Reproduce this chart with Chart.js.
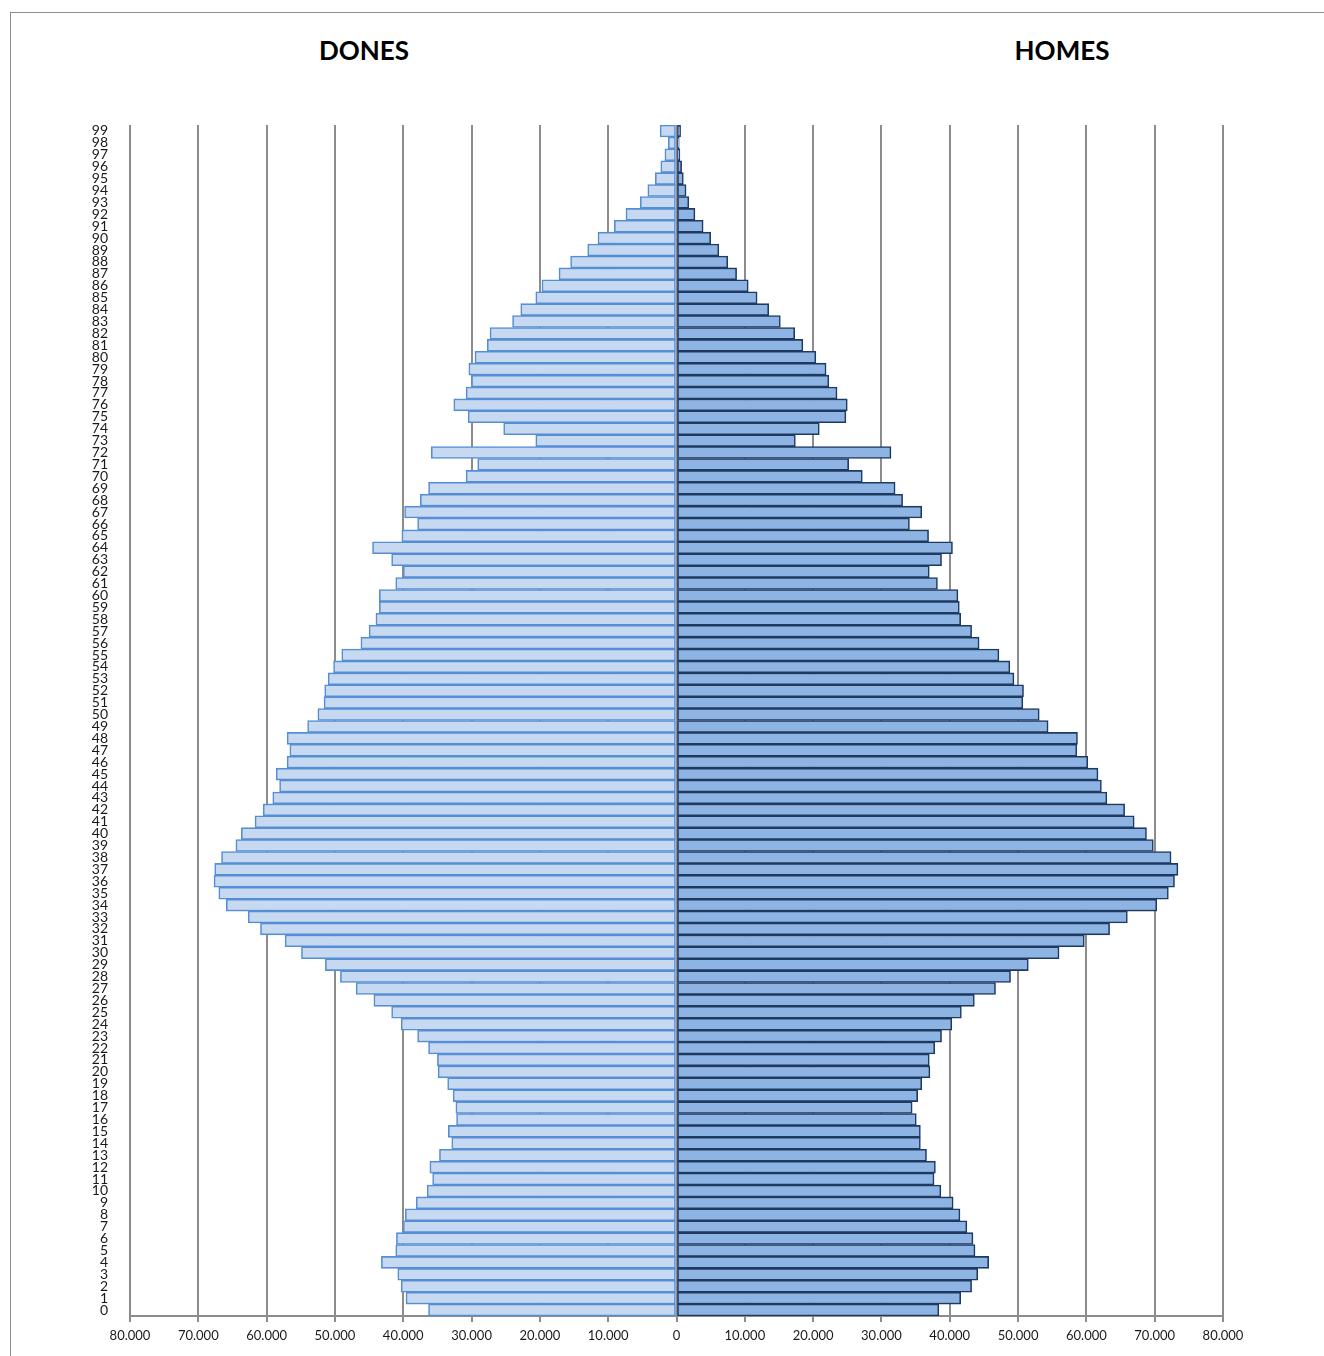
<!DOCTYPE html>
<html>
<head>
<meta charset="utf-8">
<script src="https://cdn.jsdelivr.net/npm/chart.js@4.4.1/dist/chart.umd.min.js"></script>
<style>
  html, body { margin: 0; padding: 0; background: #fff; }
  body { width: 1324px; height: 1356px; position: relative; overflow: hidden; }
  .frame { position: absolute; left: 10px; top: 12px; width: 1400px; height: 1400px;
           border-left: 1px solid #8c8c8c; border-top: 1px solid #8c8c8c; }
  .side-title { position: absolute; top: 34px; font: bold 26px Lato, 'Open Sans', sans-serif;
                color: #000; transform: translateX(-50%); white-space: nowrap; }
  .chart-box { position: absolute; left: 0; top: 0; width: 1324px; height: 1356px; }
</style>
</head>
<body>
<div class="frame"></div>
<div class="side-title" style="left:364px">DONES</div>
<div class="side-title" style="left:1062px">HOMES</div>
<div class="chart-box"><canvas id="pyramid"></canvas></div>

<script>
// ages 0..99, bottom to top
const ages = Array.from({ length: 100 }, (_, i) => String(i));

// women per age (0..99)
const dones = [
  36300, 39600, 40300, 40800, 43200, 41100, 41000, 40000, 39700, 38100,
  36500, 35700, 36100, 34700, 32900, 33400, 32200, 32300, 32700, 33500,
  34900, 35000, 36300, 37900, 40300, 41700, 44300, 46900, 49200, 51400,
  54900, 57300, 60900, 62700, 65900, 67000, 67700, 67600, 66600, 64500,
  63700, 61700, 60500, 59100, 58100, 58600, 57000, 56600, 57000, 54000,
  52500, 51600, 51500, 51000, 50200, 49000, 46200, 45000, 44000, 43500,
  43500, 41100, 40000, 41700, 44500, 40200, 37900, 39800, 37500, 36300,
  30800, 29100, 35900, 20600, 25300, 30500, 32600, 30800, 30000, 30400,
  29500, 27700, 27300, 24000, 22800, 20600, 19700, 17200, 15500, 13000,
  11500, 9100, 7400, 5300, 4200, 3100, 2300, 1700, 1200, 2400
];

// men per age (0..99)
const homes = [
  38400, 41600, 43200, 44100, 45700, 43700, 43400, 42500, 41500, 40500,
  38700, 37700, 37900, 36600, 35700, 35700, 35100, 34500, 35300, 35900,
  37100, 37000, 37800, 38800, 40300, 41700, 43600, 46700, 48900, 51500,
  56000, 59700, 63400, 66000, 70300, 72000, 72900, 73400, 72400, 69800,
  68800, 67000, 65600, 63000, 62200, 61700, 60200, 58600, 58700, 54400,
  53100, 50700, 50800, 49400, 48800, 47200, 44300, 43200, 41600, 41400,
  41200, 38200, 37000, 38800, 40400, 36900, 34100, 35900, 33100, 32000,
  27200, 25200, 31400, 17400, 20900, 24800, 25000, 23500, 22300, 21900,
  20400, 18500, 17300, 15200, 13500, 11800, 10500, 8800, 7500, 6200,
  5000, 3900, 2700, 1800, 1400, 1000, 750, 500, 400, 600
];

const xMin = -80000;
const xMax = 80000;
const xStep = 10000;

const fmt = v => Math.abs(v).toString().replace(/\B(?=(\d{3})+(?!\d))/g, '.');

new Chart(document.getElementById('pyramid'), {
  type: 'bar',
  data: {
    labels: ages,
    datasets: [
      {
        label: 'Dones',
        data: dones.map(v => -v),
        backgroundColor: '#c6d9f1',
        borderColor: '#558ed5',
        borderWidth: 1.6,
        borderSkipped: false,
        barPercentage: 1,
        categoryPercentage: 1
      },
      {
        label: 'Homes',
        data: homes,
        backgroundColor: '#8db4e2',
        borderColor: '#1f3a60',
        borderWidth: 1.6,
        borderSkipped: false,
        barPercentage: 1,
        categoryPercentage: 1
      }
    ]
  },
  options: {
    indexAxis: 'y',
    responsive: true,
    maintainAspectRatio: false,
    animation: false,
    layout: { padding: { left: 10, right: 101, top: 125, bottom: 10 } },
    plugins: { legend: { display: false }, tooltip: { enabled: false } },
    scales: {
      x: {
        stacked: true,
        min: xMin,
        max: xMax,
        afterFit: s => { s.height = 30; },
        ticks: {
          stepSize: xStep,
          padding: 6,
          color: '#1a1a1a',
          font: { family: 'Lato', size: 13 },
          callback: v => fmt(v)
        },
        grid: { color: '#8c8c8c', lineWidth: 2, tickLength: 6, drawOnChartArea: true },
        border: { color: '#8c8c8c', width: 2 }
      },
      y: {
        stacked: true,
        reverse: true,
        afterFit: s => { s.width = 120; },
        ticks: {
          autoSkip: false,
          padding: 14,
          color: '#1a1a1a',
          font: { family: 'Lato', size: 14, lineHeight: 1 }
        },
        grid: { display: false },
        border: { display: false }
      }
    }
  }
});
</script>
</body>
</html>
